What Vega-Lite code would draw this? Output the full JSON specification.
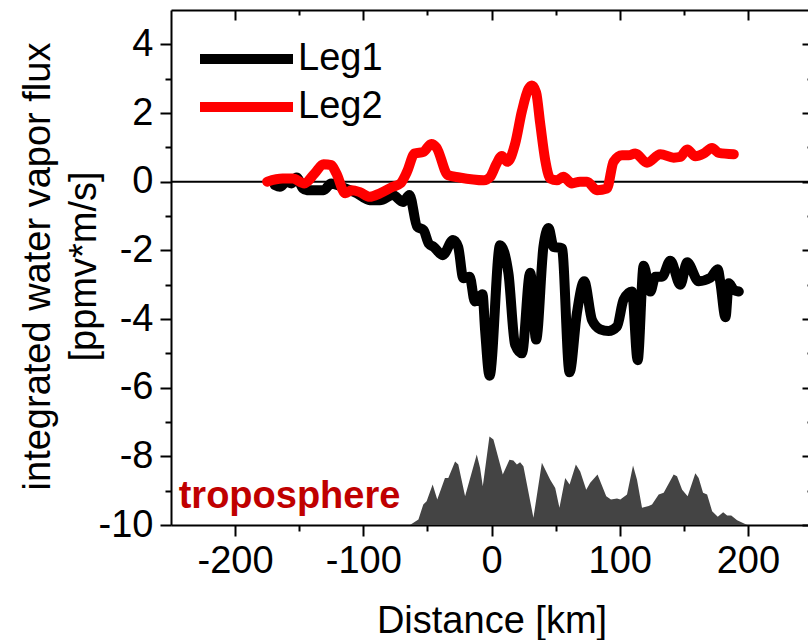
{
  "$schema": "https://vega.github.io/schema/vega-lite/v6.json",
  "width": 641,
  "height": 515,
  "autosize": {"type": "none"},
  "padding": {"left": 171, "top": 10, "right": 0, "bottom": 115},
  "background": "white",
  "config": {
    "view": {"stroke": null},
    "font": "Liberation Sans",
    "axis": {
      "grid": false,
      "domainColor": "black",
      "domainWidth": 2,
      "tickColor": "black",
      "tickWidth": 2,
      "labelFont": "Liberation Sans",
      "labelFontSize": 38,
      "labelColor": "black",
      "titleFont": "Liberation Sans",
      "titleFontSize": 38,
      "titleFontWeight": "normal",
      "titleColor": "black"
    }
  },
  "datasets": {
    "terrain": [
      {"x": -250, "h": -10}, {"x": -63.6, "h": -10}, {"x": -57, "h": -9.84}, {"x": -53.2, "h": -9.4},
      {"x": -50.6, "h": -9.31}, {"x": -45.9, "h": -8.82}, {"x": -42.3, "h": -9.26}, {"x": -36.3, "h": -8.63},
      {"x": -33.7, "h": -8.63}, {"x": -28.4, "h": -8.15}, {"x": -25.9, "h": -8.24}, {"x": -20.6, "h": -9.16},
      {"x": -11.5, "h": -7.95}, {"x": -8.9, "h": -8.34}, {"x": -6.8, "h": -8.87}, {"x": -1.6, "h": -7.42},
      {"x": 1.5, "h": -7.51}, {"x": 8.8, "h": -8.53}, {"x": 14, "h": -8.1}, {"x": 17.1, "h": -8.12},
      {"x": 19.8, "h": -8.24}, {"x": 22.3, "h": -8.17}, {"x": 24.9, "h": -8.29}, {"x": 32.7, "h": -9.79},
      {"x": 39.3, "h": -8.19}, {"x": 45.8, "h": -8.68}, {"x": 49.7, "h": -8.92}, {"x": 53, "h": -9.5},
      {"x": 57.5, "h": -8.63}, {"x": 60.9, "h": -8.82}, {"x": 65.8, "h": -8.24}, {"x": 69.2, "h": -8.44},
      {"x": 73.9, "h": -8.97}, {"x": 77, "h": -8.77}, {"x": 82.7, "h": -8.53}, {"x": 89.5, "h": -9.16},
      {"x": 93.2, "h": -9.26}, {"x": 97.9, "h": -9.23}, {"x": 100.5, "h": -9.26}, {"x": 105.7, "h": -9.11},
      {"x": 110.4, "h": -8.27}, {"x": 113.5, "h": -8.68}, {"x": 117.4, "h": -9.5}, {"x": 122.6, "h": -9.45},
      {"x": 125.2, "h": -9.4}, {"x": 130.4, "h": -9.11}, {"x": 134.3, "h": -9.06}, {"x": 142.1, "h": -8.53},
      {"x": 144.7, "h": -8.58}, {"x": 148.7, "h": -8.97}, {"x": 153, "h": -9.16}, {"x": 159, "h": -8.49},
      {"x": 161.6, "h": -8.63}, {"x": 165, "h": -9.06}, {"x": 168.2, "h": -9.11}, {"x": 172.1, "h": -9.6},
      {"x": 176.5, "h": -9.76}, {"x": 180.7, "h": -9.63}, {"x": 183.8, "h": -9.72}, {"x": 187, "h": -9.72},
      {"x": 191.6, "h": -9.86}, {"x": 199.5, "h": -10}, {"x": 250, "h": -10}
    ],
    "flux": [
      {"series": "Leg1", "x": -169, "y": -0.1}, {"series": "Leg1", "x": -165, "y": -0.15},
      {"series": "Leg1", "x": -160, "y": 0}, {"series": "Leg1", "x": -156, "y": -0.05},
      {"series": "Leg1", "x": -152, "y": 0.12}, {"series": "Leg1", "x": -147, "y": -0.2},
      {"series": "Leg1", "x": -144, "y": -0.25}, {"series": "Leg1", "x": -136.5, "y": -0.25},
      {"series": "Leg1", "x": -131, "y": -0.25}, {"series": "Leg1", "x": -125, "y": -0.05},
      {"series": "Leg1", "x": -117, "y": -0.15}, {"series": "Leg1", "x": -105, "y": -0.34},
      {"series": "Leg1", "x": -95, "y": -0.54}, {"series": "Leg1", "x": -87, "y": -0.54},
      {"series": "Leg1", "x": -77, "y": -0.39}, {"series": "Leg1", "x": -69, "y": -0.59},
      {"series": "Leg1", "x": -64, "y": -0.39}, {"series": "Leg1", "x": -58, "y": -1.31},
      {"series": "Leg1", "x": -53, "y": -1.41}, {"series": "Leg1", "x": -49, "y": -1.8},
      {"series": "Leg1", "x": -45, "y": -1.9}, {"series": "Leg1", "x": -38, "y": -2.14},
      {"series": "Leg1", "x": -30, "y": -1.7}, {"series": "Leg1", "x": -26, "y": -1.9},
      {"series": "Leg1", "x": -22, "y": -2.81}, {"series": "Leg1", "x": -17, "y": -2.77},
      {"series": "Leg1", "x": -13, "y": -3.49}, {"series": "Leg1", "x": -7, "y": -3.28},
      {"series": "Leg1", "x": -5, "y": -4.32}, {"series": "Leg1", "x": -1.5, "y": -5.65},
      {"series": "Leg1", "x": 6.7, "y": -1.85}, {"series": "Leg1", "x": 13.2, "y": -2.67},
      {"series": "Leg1", "x": 18.4, "y": -4.75}, {"series": "Leg1", "x": 23.7, "y": -5.0},
      {"series": "Leg1", "x": 30.2, "y": -2.65}, {"series": "Leg1", "x": 34.8, "y": -4.6},
      {"series": "Leg1", "x": 40.5, "y": -1.9}, {"series": "Leg1", "x": 44.5, "y": -1.35},
      {"series": "Leg1", "x": 48.4, "y": -1.9}, {"series": "Leg1", "x": 54.9, "y": -1.94},
      {"series": "Leg1", "x": 60.9, "y": -5.55}, {"series": "Leg1", "x": 66.6, "y": -3.83},
      {"series": "Leg1", "x": 72.3, "y": -2.9}, {"series": "Leg1", "x": 78.4, "y": -4.03},
      {"series": "Leg1", "x": 84.8, "y": -4.3}, {"series": "Leg1", "x": 91.3, "y": -4.35},
      {"series": "Leg1", "x": 97.9, "y": -4.22}, {"series": "Leg1", "x": 103, "y": -3.44},
      {"series": "Leg1", "x": 109.6, "y": -3.2}, {"series": "Leg1", "x": 114, "y": -5.2},
      {"series": "Leg1", "x": 118.7, "y": -2.45}, {"series": "Leg1", "x": 123.9, "y": -3.2},
      {"series": "Leg1", "x": 127.8, "y": -2.77}, {"series": "Leg1", "x": 133, "y": -2.77},
      {"series": "Leg1", "x": 139.5, "y": -2.3}, {"series": "Leg1", "x": 147.3, "y": -3.0},
      {"series": "Leg1", "x": 152.6, "y": -2.35}, {"series": "Leg1", "x": 161.6, "y": -2.9},
      {"series": "Leg1", "x": 170.8, "y": -2.8}, {"series": "Leg1", "x": 176.5, "y": -2.55},
      {"series": "Leg1", "x": 178.6, "y": -2.96}, {"series": "Leg1", "x": 182.5, "y": -3.95},
      {"series": "Leg1", "x": 185.1, "y": -2.96}, {"series": "Leg1", "x": 189, "y": -3.15},
      {"series": "Leg1", "x": 192.9, "y": -3.2},
      {"series": "Leg2", "x": -175, "y": 0}, {"series": "Leg2", "x": -163, "y": 0.09},
      {"series": "Leg2", "x": -155, "y": 0.09}, {"series": "Leg2", "x": -146, "y": -0.05},
      {"series": "Leg2", "x": -138, "y": 0.24}, {"series": "Leg2", "x": -131, "y": 0.51},
      {"series": "Leg2", "x": -125, "y": 0.48}, {"series": "Leg2", "x": -121, "y": 0.24},
      {"series": "Leg2", "x": -114, "y": -0.34}, {"series": "Leg2", "x": -109, "y": -0.25},
      {"series": "Leg2", "x": -103, "y": -0.3}, {"series": "Leg2", "x": -95, "y": -0.44},
      {"series": "Leg2", "x": -87, "y": -0.34}, {"series": "Leg2", "x": -77, "y": -0.15},
      {"series": "Leg2", "x": -71, "y": -0.05}, {"series": "Leg2", "x": -66, "y": 0.28},
      {"series": "Leg2", "x": -60, "y": 0.82}, {"series": "Leg2", "x": -53, "y": 0.87},
      {"series": "Leg2", "x": -47, "y": 1.1}, {"series": "Leg2", "x": -43, "y": 1.0},
      {"series": "Leg2", "x": -34, "y": 0.19}, {"series": "Leg2", "x": -25, "y": 0.12},
      {"series": "Leg2", "x": -6, "y": 0.04}, {"series": "Leg2", "x": -1, "y": 0.14},
      {"series": "Leg2", "x": 4, "y": 0.53}, {"series": "Leg2", "x": 8, "y": 0.75},
      {"series": "Leg2", "x": 12.4, "y": 0.58}, {"series": "Leg2", "x": 18.4, "y": 1.1},
      {"series": "Leg2", "x": 23.7, "y": 2.05}, {"series": "Leg2", "x": 28.8, "y": 2.7},
      {"series": "Leg2", "x": 31.5, "y": 2.8}, {"series": "Leg2", "x": 34.8, "y": 2.6},
      {"series": "Leg2", "x": 38, "y": 1.69}, {"series": "Leg2", "x": 41.9, "y": 0.63},
      {"series": "Leg2", "x": 45.8, "y": 0.09}, {"series": "Leg2", "x": 51, "y": 0.04},
      {"series": "Leg2", "x": 56, "y": 0.14}, {"series": "Leg2", "x": 62.7, "y": -0.05},
      {"series": "Leg2", "x": 69, "y": 0}, {"series": "Leg2", "x": 74.5, "y": 0},
      {"series": "Leg2", "x": 82.3, "y": -0.25}, {"series": "Leg2", "x": 90, "y": -0.2},
      {"series": "Leg2", "x": 95.2, "y": 0.58}, {"series": "Leg2", "x": 101.8, "y": 0.77},
      {"series": "Leg2", "x": 107, "y": 0.77}, {"series": "Leg2", "x": 112.2, "y": 0.82},
      {"series": "Leg2", "x": 121.3, "y": 0.55}, {"series": "Leg2", "x": 131.7, "y": 0.8},
      {"series": "Leg2", "x": 142.1, "y": 0.7}, {"series": "Leg2", "x": 147.3, "y": 0.72},
      {"series": "Leg2", "x": 152.6, "y": 0.94}, {"series": "Leg2", "x": 159, "y": 0.74},
      {"series": "Leg2", "x": 165.5, "y": 0.82}, {"series": "Leg2", "x": 172, "y": 0.98},
      {"series": "Leg2", "x": 177.3, "y": 0.84}, {"series": "Leg2", "x": 189, "y": 0.8}
    ],
    "zero": [{"y": 0}],
    "note": [{"label": "troposphere", "x": -244, "y": -9.5}]
  },
  "layer": [
    {
      "data": {"name": "terrain"},
      "mark": {"type": "area", "color": "#444444"},
      "encoding": {
        "x": {
          "field": "x", "type": "quantitative",
          "scale": {"domain": [-250, 250], "nice": false, "zero": false},
          "axis": {
            "orient": "top", "title": null, "labels": false,
            "values": [-200, -150, -100, -50, 0, 50, 100, 150, 200],
            "tickSize": {"expr": "datum.value % 100 == 0 ? -10 : -5"}
          }
        },
        "y": {
          "field": "h", "type": "quantitative",
          "scale": {"domain": [-10, 5], "nice": false, "zero": false},
          "axis": {
            "orient": "right", "title": null, "labels": false,
            "values": [-10, -9, -8, -7, -6, -5, -4, -3, -2, -1, 0, 1, 2, 3, 4],
            "tickSize": {"expr": "datum.value % 2 == 0 ? -10 : -5"}
          }
        },
        "y2": {"datum": -10}
      }
    },
    {
      "data": {"name": "zero"},
      "mark": {"type": "rule", "color": "black", "strokeWidth": 2},
      "encoding": {
        "y": {"field": "y", "type": "quantitative", "scale": {"domain": [-10, 5], "nice": false, "zero": false}, "axis": null}
      }
    },
    {
      "data": {"name": "flux"},
      "mark": {"type": "line", "strokeWidth": 10, "strokeCap": "round", "strokeJoin": "round", "interpolate": "monotone"},
      "encoding": {
        "x": {
          "field": "x", "type": "quantitative",
          "scale": {"domain": [-250, 250], "nice": false, "zero": false},
          "axis": {
            "orient": "bottom",
            "title": "Distance [km]",
            "values": [-200, -150, -100, -50, 0, 50, 100, 150, 200],
            "labelExpr": "datum.value % 100 == 0 ? toString(datum.value) : ''",
            "tickSize": {"expr": "datum.value % 100 == 0 ? 11 : 6"},
            "labelPadding": 6,
            "titleBaseline": "alphabetic",
            "titleX": 320.5,
            "titleY": 107
          }
        },
        "y": {
          "field": "y", "type": "quantitative",
          "scale": {"domain": [-10, 5], "nice": false, "zero": false},
          "axis": {
            "orient": "left",
            "title": ["integrated water vapor flux", "[ppmv*m/s]"],
            "values": [-10, -9, -8, -7, -6, -5, -4, -3, -2, -1, 0, 1, 2, 3, 4],
            "labelExpr": "datum.value % 2 == 0 ? toString(datum.value) : ''",
            "tickSize": {"expr": "datum.value % 2 == 0 ? 11 : 6"},
            "labelPadding": 7,
            "titleLineHeight": 46,
            "titleBaseline": "middle",
            "titleX": -133,
            "titleY": 256
          }
        },
        "color": {
          "field": "series", "type": "nominal",
          "scale": {"domain": ["Leg1", "Leg2"], "range": ["#000000", "#ff0000"]},
          "legend": {
            "orient": "none", "legendX": 24, "legendY": 30, "title": null,
            "symbolType": "stroke", "symbolSize": 8649, "symbolStrokeWidth": 10,
            "labelFontSize": 38, "labelFont": "Liberation Sans", "labelColor": "black",
            "clipHeight": 38, "rowPadding": 10, "padding": 0, "labelOffset": 0
          }
        }
      }
    },
    {
      "data": {"name": "note"},
      "mark": {"type": "text", "fontSize": 38, "fontWeight": "bold", "color": "#c00000", "align": "left", "baseline": "alphabetic", "font": "Liberation Sans"},
      "encoding": {
        "text": {"field": "label", "type": "nominal"},
        "x": {"field": "x", "type": "quantitative", "scale": {"domain": [-250, 250], "nice": false, "zero": false}, "axis": null},
        "y": {"field": "y", "type": "quantitative", "scale": {"domain": [-10, 5], "nice": false, "zero": false}, "axis": null}
      }
    }
  ],
  "resolve": {"axis": {"x": "independent", "y": "independent"}}
}
